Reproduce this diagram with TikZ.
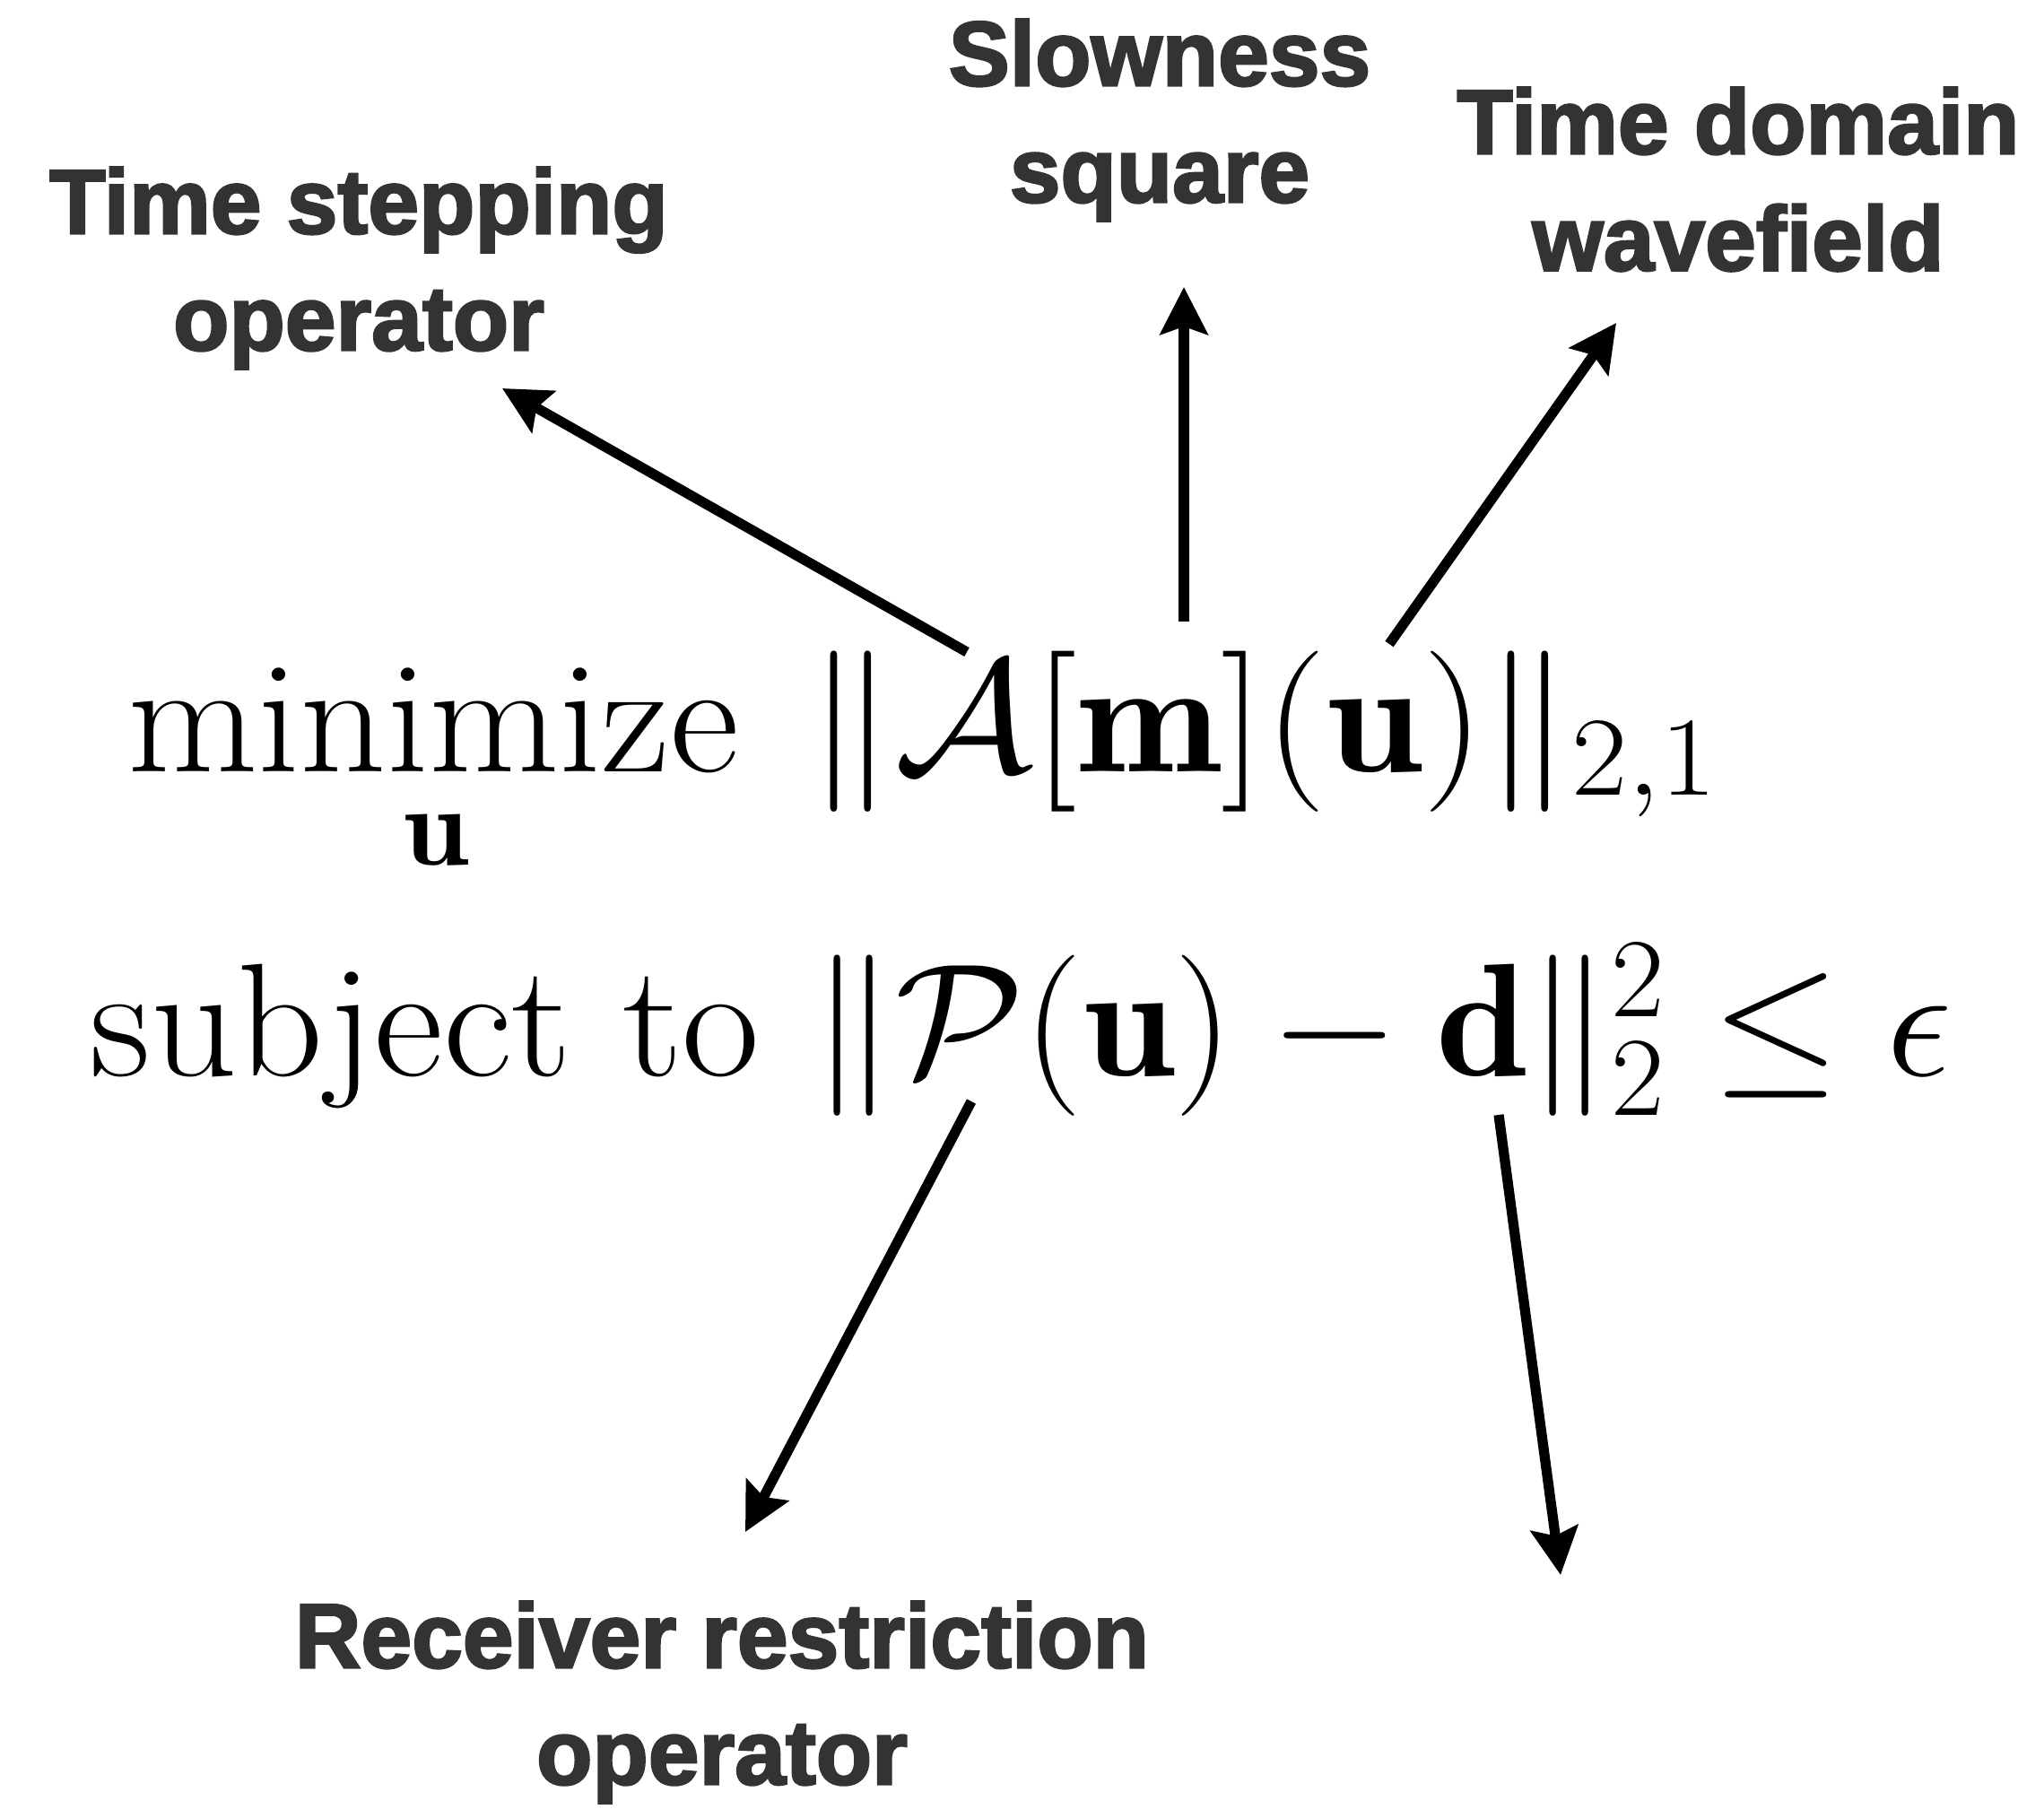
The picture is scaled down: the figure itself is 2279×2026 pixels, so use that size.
\RequirePackage{fix-cm}
\documentclass[tikz,border=0pt]{standalone}
\usepackage{amsmath}
\usepackage{fontspec}
\newfontfamily\lblfont{Liberation Sans}[BoldFeatures={FakeBold=2.5}]
\usetikzlibrary{arrows.meta}
\definecolor{lblgray}{HTML}{333333}
\newcommand{\wideeq}[2][1.05]{\scalebox{#1}[1]{#2}}

\begin{document}
\begin{tikzpicture}[
  x=0.01cm, y=-0.01cm,
  lbl/.style={align=center, text=lblgray, font=\lblfont\bfseries\fontsize{29}{37}\selectfont},
  eqn/.style={inner sep=0pt, font=\fontsize{51}{60}\selectfont},
  ptr/.style={line width=3.2pt, -{Stealth[length=15pt, width=15pt, inset=2.5pt]}}
]
\useasboundingbox (0,0) rectangle (2279,2026);

% labels
\node[lbl] (tstep) at (400,299) {Time stepping\\operator};
\node[lbl] (slow) at (1293,134) {Slowness\\square};
\node[lbl] (wfield) at (1938,200) {Time domain\\wavefield};
\node[lbl] (recv) at (805,1898) {Receiver restriction\\operator};

% the problem
\node[eqn, anchor=base] (minw) at (483,860) {\wideeq{$\operatorname{minimize}$}};
\node[eqn, anchor=base] (minsub) at (486,964) {\wideeq{$\scriptstyle\mathbf{u}$}};
\node[eqn, anchor=base west] (obj) at (900,860) {\wideeq[1.08]{$\|\mathcal{A}[\mathbf{m}](\mathbf{u})\|_{2,1}$}};
\node[eqn, anchor=base] (subj) at (474,1199) {\wideeq{subject to}};
\node[eqn, anchor=base west] (cons) at (905,1199) {\wideeq[1.03]{$\|\mathcal{P}(\mathbf{u})-\mathbf{d}\|_2^2\leq\epsilon$}};

% arrow ends
\coordinate (tA) at (1078,727);
\coordinate (hA) at (560,433);
\coordinate (tM) at (1320,693);
\coordinate (hM) at (1320,320);
\coordinate (tU) at (1549,718);
\coordinate (hU) at (1802,360);
\coordinate (tP) at (1083,1228);
\coordinate (hP) at (831,1708);
\coordinate (tD) at (1671,1243);
\coordinate (hD) at (1740,1756);

\draw[ptr] (tA) -- (hA);
\draw[ptr] (tM) -- (hM);
\draw[ptr] (tU) -- (hU);
\draw[ptr] (tP) -- (hP);
\draw[ptr] (tD) -- (hD);

\end{tikzpicture}
\end{document}
